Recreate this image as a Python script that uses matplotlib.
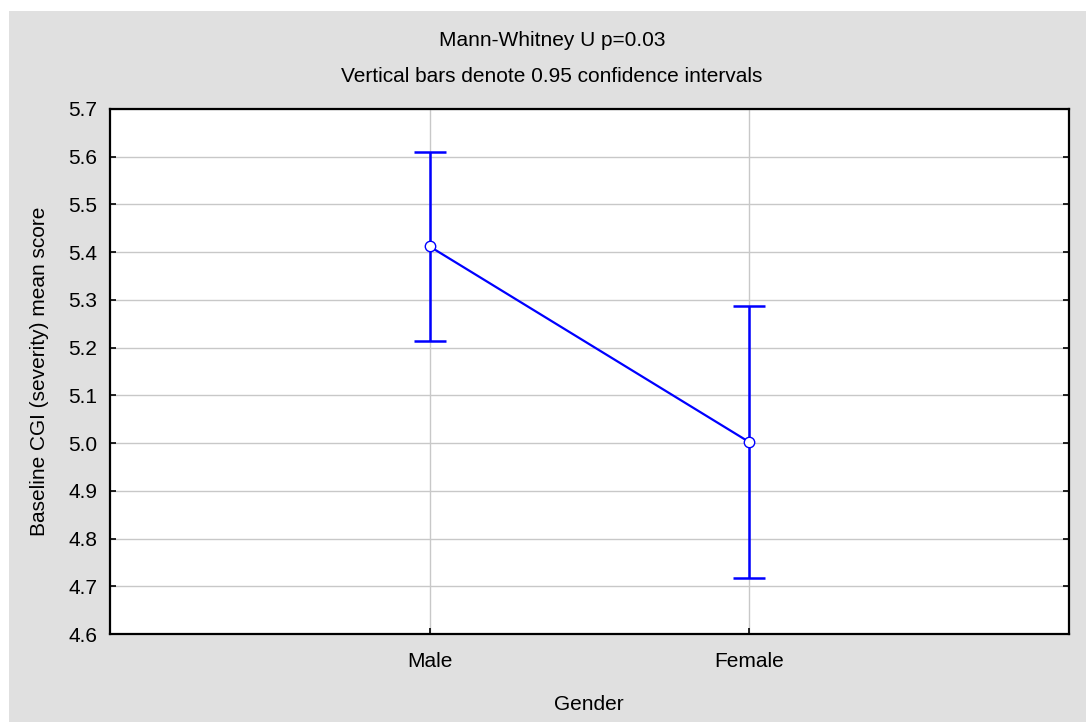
import matplotlib.pyplot as plt
from matplotlib.patches import Rectangle

plt.rcParams['font.family'] = ['Liberation Sans', 'DejaVu Sans']

genders = ['Male', 'Female']
means = [5.412, 5.002]
ci_low = [5.214, 4.717]
ci_high = [5.610, 5.287]
y_ticks = [4.6, 4.7, 4.8, 4.9, 5.0, 5.1, 5.2, 5.3, 5.4, 5.5, 5.6, 5.7]

W, H = 1086, 722
fig = plt.figure(figsize=(W / 100, H / 100), dpi=100, facecolor='white')

# grey panel behind everything
fig.patches.append(Rectangle((9 / W, 0), 1, 1 - 11 / H, transform=fig.transFigure,
                             facecolor='#e0e0e0', edgecolor='none', zorder=-5))

ax = fig.add_axes([110 / W, 1 - 634 / H, (1069 - 110) / W, (634 - 109) / H])
ax.set_zorder(1)
ax.set_facecolor('white')

x = list(range(1, len(genders) + 1))
yerr = [[m - lo for m, lo in zip(means, ci_low)],
        [hi - m for m, hi in zip(means, ci_high)]]

ax.errorbar(x, means, yerr=yerr, fmt='none', ecolor='#0000ff', elinewidth=1.8,
            capsize=11.5, capthick=1.8, zorder=3)
ax.plot(x, means, color='#0000ff', linewidth=1.6, marker='o', markersize=7.5,
        markerfacecolor='white', markeredgecolor='#0000ff', markeredgewidth=1.0, zorder=4)

ax.set_xlim(0, len(genders) + 1)
ax.set_ylim(4.6, 5.7)
ax.set_xticks(x)
ax.set_xticklabels(genders)
ax.set_yticks(y_ticks)
ax.set_yticklabels(['%.1f' % v for v in y_ticks])

ax.grid(True, color='#c8c8c8', linewidth=1.0)
ax.set_axisbelow(True)
for s in ax.spines.values():
    s.set_linewidth(1.6)
    s.set_color('black')

ax.tick_params(axis='both', direction='in', length=4, width=1.2, labelsize=15, colors='black')
ax.tick_params(axis='y', right=True, pad=9)
ax.tick_params(axis='x', pad=13)

fig.text(552 / W, 1 - 41 / H, 'Mann-Whitney U p=0.03', ha='center', va='center', fontsize=15)
fig.text(552 / W, 1 - 77 / H, 'Vertical bars denote 0.95 confidence intervals',
         ha='center', va='center', fontsize=15)
fig.text(40 / W, 1 - 371 / H, 'Baseline CGI (severity) mean score', rotation=90,
         ha='center', va='center', fontsize=15)
fig.text(589 / W, 1 - 704 / H, 'Gender', ha='center', va='center', fontsize=15)

fig.savefig('out.png', dpi=100, facecolor=fig.get_facecolor())
